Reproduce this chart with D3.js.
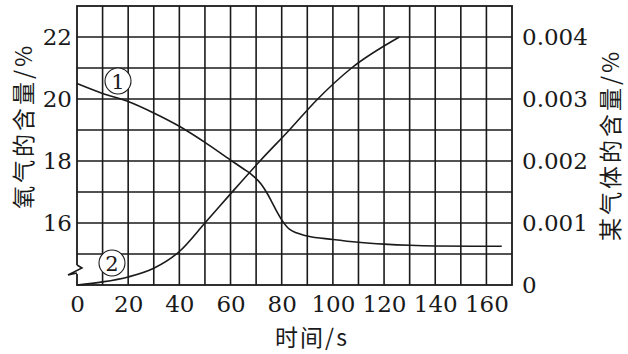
<!DOCTYPE html>
<html>
<head>
    <meta charset="utf-8">
    <title>氧气与某气体含量</title>
    <script src="https://d3js.org/d3.v7.min.js"></script>
    <style>
        body { margin: 0; background: #fff; }
        text { fill: #1a1a1a; }
        .num { font-family: "DejaVu Serif", "Liberation Serif", serif; }
        .cjk { font-family: "Noto Sans CJK SC", "Noto Sans CJK JP", sans-serif; }
    </style>
</head>
<body>
    <svg id="chart"></svg>

    <script>
        // Oxygen content (curve 1), left axis
        const o2Time = [0, 10, 20, 30, 40, 50, 60, 65, 68, 72, 74, 76, 78, 80, 83, 90, 100, 110, 120, 130, 140, 166];
        const o2Value = [20.5, 20.18, 19.92, 19.55, 19.12, 18.6, 18.03, 17.75, 17.58, 17.25, 17.0, 16.7, 16.38, 16.1, 15.8, 15.58, 15.47, 15.38, 15.32, 15.28, 15.26, 15.25];

        // Other gas content (curve 2), right axis
        const gasTime = [0, 10, 20, 30, 40, 50, 60, 71.5, 83, 93.6, 107.3, 126];
        const gasValue = [0, 0.00005, 0.00013, 0.00027, 0.00054, 0.001, 0.00147, 0.002, 0.0025, 0.00298, 0.0035, 0.004];

        // Tick labels
        const xTicks = [0, 20, 40, 60, 80, 100, 120, 140, 160];
        const leftTicks = [16, 18, 20, 22];
        const rightTicks = [0, 0.001, 0.002, 0.003, 0.004];

        const width = 628;
        const height = 354;
        const plotL = 77, plotR = 512, plotT = 6, plotB = 285;
        const ink = '#1a1a1a';

        const x = d3.scaleLinear().domain([0, 170]).range([plotL, plotR]);
        const yL = d3.scaleLinear().domain([14, 23]).range([plotB, plotT]);
        const yR = d3.scaleLinear().domain([0, 0.0045]).range([plotB, plotT]);

        const svg = d3.select('#chart')
            .attr('width', width)
            .attr('height', height);

        // Grid
        svg.append('g').selectAll('line')
            .data(d3.range(10, 170, 10))
            .enter().append('line')
            .attr('x1', d => x(d)).attr('x2', d => x(d))
            .attr('y1', plotT).attr('y2', plotB)
            .attr('stroke', ink).attr('stroke-width', 1.6);

        svg.append('g').selectAll('line')
            .data(d3.range(15, 23, 1))
            .enter().append('line')
            .attr('x1', plotL).attr('x2', plotR)
            .attr('y1', d => yL(d)).attr('y2', d => yL(d))
            .attr('stroke', ink).attr('stroke-width', 1.6);

        // Frame
        svg.append('rect')
            .attr('x', plotL).attr('y', plotT)
            .attr('width', plotR - plotL).attr('height', plotB - plotT)
            .attr('fill', 'none').attr('stroke', ink).attr('stroke-width', 1.8);

        // Axis break on the left axis
        svg.append('rect')
            .attr('x', plotL - 2).attr('y', 265).attr('width', 4).attr('height', 9)
            .attr('fill', '#fff');
        svg.append('path')
            .attr('d', 'M77,265 L82,268 L68,275 L77,273')
            .attr('fill', 'none').attr('stroke', ink).attr('stroke-width', 1.5);

        // Axes (labels only)
        function styleAxis(g) {
            g.attr('font-family', null);
            g.select('.domain').remove();
            g.selectAll('text')
                .attr('class', 'num')
                .attr('font-size', 23)
                .attr('fill', ink);
        }

        svg.append('g')
            .attr('transform', `translate(0,${plotB})`)
            .call(d3.axisBottom(x).tickValues(xTicks).tickSize(0).tickPadding(11).tickFormat(d3.format('d')))
            .call(styleAxis);

        svg.append('g')
            .attr('transform', `translate(${plotL},0)`)
            .call(d3.axisLeft(yL).tickValues(leftTicks).tickSize(0).tickPadding(5).tickFormat(d3.format('d')))
            .call(styleAxis);

        svg.append('g')
            .attr('transform', `translate(${plotR},0)`)
            .call(d3.axisRight(yR).tickValues(rightTicks).tickSize(0).tickPadding(10)
                .tickFormat(d => d === 0 ? '0' : d3.format('.3f')(d)))
            .call(styleAxis);

        // Curves
        const o2Line = d3.line()
            .x(d => x(d[0]))
            .y(d => yL(d[1]))
            .curve(d3.curveMonotoneX);

        const gasLine = d3.line()
            .x(d => x(d[0]))
            .y(d => yR(d[1]))
            .curve(d3.curveMonotoneX);

        svg.append('path')
            .datum(o2Time.map((t, i) => [t, o2Value[i]]))
            .attr('d', o2Line)
            .attr('fill', 'none').attr('stroke', ink).attr('stroke-width', 1.6);

        svg.append('path')
            .datum(gasTime.map((t, i) => [t, gasValue[i]]))
            .attr('d', gasLine)
            .attr('fill', 'none').attr('stroke', ink).attr('stroke-width', 1.6);

        // Circled curve labels
        const marks = [
            { label: '1', cx: 118, cy: 81 },
            { label: '2', cx: 112, cy: 263 }
        ];
        const mk = svg.append('g').selectAll('g')
            .data(marks).enter().append('g')
            .attr('transform', d => `translate(${d.cx},${d.cy})`);
        mk.append('circle')
            .attr('r', 13)
            .attr('fill', '#fff')
            .attr('stroke', ink).attr('stroke-width', 1.1);
        mk.append('text')
            .attr('class', 'num')
            .attr('text-anchor', 'middle')
            .attr('dy', '0.36em')
            .attr('font-size', 21)
            .text(d => d.label);

        // Axis titles
        svg.append('text')
            .attr('class', 'cjk')
            .attr('transform', 'translate(32,126) rotate(-90)')
            .attr('text-anchor', 'middle')
            .attr('font-size', 23)
            .attr('letter-spacing', 3)
            .text('氧气的含量/%');

        svg.append('text')
            .attr('class', 'cjk')
            .attr('transform', 'translate(619,145) rotate(-90)')
            .attr('text-anchor', 'middle')
            .attr('font-size', 23)
            .attr('letter-spacing', 3)
            .text('某气体的含量/%');

        svg.append('text')
            .attr('class', 'cjk')
            .attr('x', 312).attr('y', 346)
            .attr('text-anchor', 'middle')
            .attr('font-size', 23)
            .attr('letter-spacing', 2)
            .text('时间/s');
    </script>
</body>
</html>
